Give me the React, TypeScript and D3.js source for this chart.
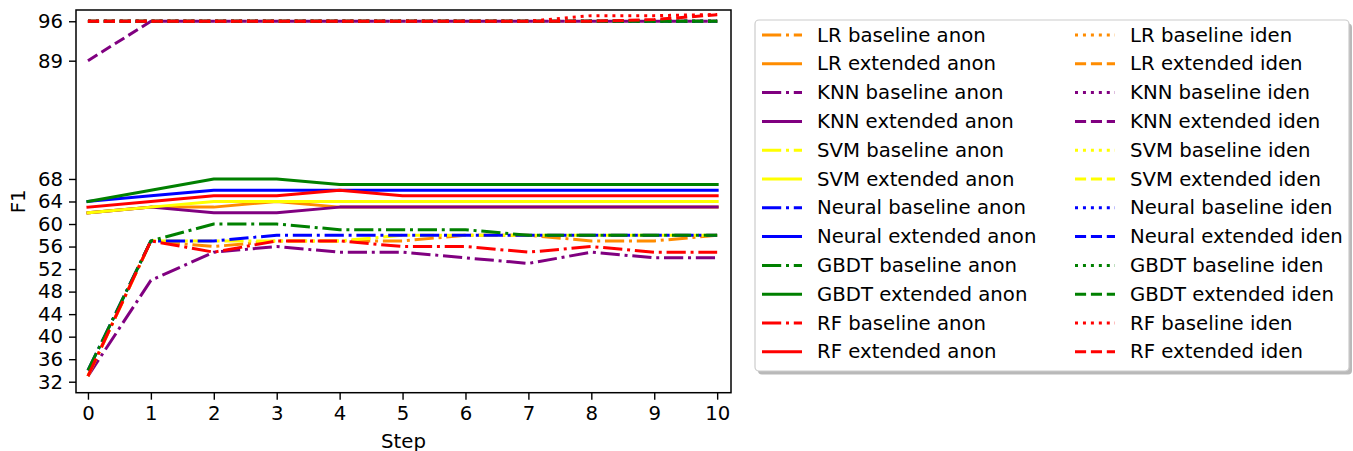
import { useEffect, useRef } from "react";
import * as d3 from "d3";

// x axis: training steps
const steps = [0, 1, 2, 3, 4, 5, 6, 7, 8, 9, 10];
const yTicks = [32, 36, 40, 44, 48, 52, 56, 60, 64, 68, 89, 96];

// anon runs
const lrBaseAnon = [33, 57, 56, 57, 57, 57, 58, 58, 57, 57, 58];
const lrExtAnon = [62, 63, 63, 64, 63, 63, 63, 63, 63, 63, 63];
const knnBaseAnon = [33, 50, 55, 56, 55, 55, 54, 53, 55, 54, 54];
const knnExtAnon = [62, 63, 62, 62, 63, 63, 63, 63, 63, 63, 63];
const svmBaseAnon = [33, 57, 57, 57, 57, 58, 58, 58, 58, 58, 58];
const svmExtAnon = [62, 63, 64, 64, 64, 64, 64, 64, 64, 64, 64];
const nnBaseAnon = [34, 57, 57, 58, 58, 58, 58, 58, 58, 58, 58];
const nnExtAnon = [64, 65, 66, 66, 66, 66, 66, 66, 66, 66, 66];
const gbdtBaseAnon = [34, 57, 60, 60, 59, 59, 59, 58, 58, 58, 58];
const gbdtExtAnon = [64, 66, 68, 68, 67, 67, 67, 67, 67, 67, 67];
const rfBaseAnon = [33, 57, 55, 57, 57, 56, 56, 55, 56, 55, 55];
const rfExtAnon = [63, 64, 65, 65, 66, 65, 65, 65, 65, 65, 65];

// iden runs
const lrBaseIden = [96, 96, 96, 96, 96, 96, 96, 96, 96, 96, 96];
const lrExtIden = [96, 96, 96, 96, 96, 96, 96, 96, 96, 96, 96];
const knnBaseIden = [96, 96, 96, 96, 96, 96, 96, 96, 96, 96, 96];
const knnExtIden = [89, 96, 96, 96, 96, 96, 96, 96, 96, 96, 96];
const svmBaseIden = [96, 96, 96, 96, 96, 96, 96, 96, 96, 96, 96];
const svmExtIden = [96, 96, 96, 96, 96, 96, 96, 96, 96, 96, 96];
const nnBaseIden = [96, 96, 96, 96, 96, 96, 96, 96, 96, 96, 96];
const nnExtIden = [96, 96, 96, 96, 96, 96, 96, 96, 96, 96, 96];
const gbdtBaseIden = [96, 96, 96, 96, 96, 96, 96, 96, 96, 96, 96];
const gbdtExtIden = [96, 96, 96, 96, 96, 96, 96, 96, 96, 96, 96];
const rfBaseIden = [96, 96, 96, 96, 96, 96, 96, 96, 97, 97, 97.2];
const rfExtIden = [96, 96, 96, 96, 96, 96, 96, 96, 96, 96.3, 97.15];

type LineStyle = "solid" | "dashed" | "dashdot" | "dotted";
type Series = { label: string; values: number[]; color: string; style: LineStyle };

const series: Series[] = [
  { label: "LR baseline anon", values: lrBaseAnon, color: "darkorange", style: "dashdot" },
  { label: "LR extended anon", values: lrExtAnon, color: "darkorange", style: "solid" },
  { label: "KNN baseline anon", values: knnBaseAnon, color: "purple", style: "dashdot" },
  { label: "KNN extended anon", values: knnExtAnon, color: "purple", style: "solid" },
  { label: "SVM baseline anon", values: svmBaseAnon, color: "yellow", style: "dashdot" },
  { label: "SVM extended anon", values: svmExtAnon, color: "yellow", style: "solid" },
  { label: "Neural baseline anon", values: nnBaseAnon, color: "blue", style: "dashdot" },
  { label: "Neural extended anon", values: nnExtAnon, color: "blue", style: "solid" },
  { label: "GBDT baseline anon", values: gbdtBaseAnon, color: "green", style: "dashdot" },
  { label: "GBDT extended anon", values: gbdtExtAnon, color: "green", style: "solid" },
  { label: "RF baseline anon", values: rfBaseAnon, color: "red", style: "dashdot" },
  { label: "RF extended anon", values: rfExtAnon, color: "red", style: "solid" },
  { label: "LR baseline iden", values: lrBaseIden, color: "darkorange", style: "dotted" },
  { label: "LR extended iden", values: lrExtIden, color: "darkorange", style: "dashed" },
  { label: "KNN baseline iden", values: knnBaseIden, color: "purple", style: "dotted" },
  { label: "KNN extended iden", values: knnExtIden, color: "purple", style: "dashed" },
  { label: "SVM baseline iden", values: svmBaseIden, color: "yellow", style: "dotted" },
  { label: "SVM extended iden", values: svmExtIden, color: "yellow", style: "dashed" },
  { label: "Neural baseline iden", values: nnBaseIden, color: "blue", style: "dotted" },
  { label: "Neural extended iden", values: nnExtIden, color: "blue", style: "dashed" },
  { label: "GBDT baseline iden", values: gbdtBaseIden, color: "green", style: "dotted" },
  { label: "GBDT extended iden", values: gbdtExtIden, color: "green", style: "dashed" },
  { label: "RF baseline iden", values: rfBaseIden, color: "red", style: "dotted" },
  { label: "RF extended iden", values: rfExtIden, color: "red", style: "dashed" },
];

const LW = 3;
const FONT = "DejaVu Sans, sans-serif";
const FONT_SIZE = "19.7px";

// matplotlib style dash patterns, scaled by line width
const dashFor = (style: LineStyle, lw: number) => {
  if (style === "dashed") return `${3.7 * lw},${1.6 * lw}`;
  if (style === "dashdot") return `${6.4 * lw},${1.6 * lw},${1 * lw},${1.6 * lw}`;
  if (style === "dotted") return `${1 * lw},${1.65 * lw}`;
  return null;
};

export default function App() {
  const ref = useRef<SVGSVGElement | null>(null);

  useEffect(() => {
    if (!ref.current) return;
    const svg = d3.select(ref.current);
    svg.selectAll("*").remove();

    const plot = { left: 76, right: 731, top: 10, bottom: 392.7 };

    const x = d3.scaleLinear().domain([-0.19, 10.22]).range([plot.left, plot.right]);
    const y = d3.scaleLinear().domain([30.05, 98.0]).range([plot.bottom, plot.top]);

    svg.append("rect").attr("width", 1353).attr("height", 451).attr("fill", "white");

    // lines
    const line = d3
      .line<number>()
      .x((_, i) => x(steps[i]))
      .y((d) => y(d));

    const lines = svg.append("g");
    series.forEach((s) => {
      lines
        .append("path")
        .datum(s.values)
        .attr("fill", "none")
        .attr("stroke", s.color)
        .attr("stroke-width", LW)
        .attr("stroke-linecap", s.style === "solid" ? "square" : "butt")
        .attr("stroke-linejoin", "round")
        .attr("stroke-dasharray", dashFor(s.style, LW))
        .attr("d", line);
    });

    // axes
    const xAxis = svg
      .append("g")
      .attr("transform", `translate(0,${plot.bottom})`)
      .call(d3.axisBottom(x).tickValues(steps).tickSize(7).tickPadding(6).tickFormat(d3.format("d")));
    const yAxis = svg
      .append("g")
      .attr("transform", `translate(${plot.left},0)`)
      .call(d3.axisLeft(y).tickValues(yTicks).tickSize(7).tickPadding(6).tickFormat(d3.format("d")));

    [xAxis, yAxis].forEach((a) => {
      a.select(".domain").remove();
      a.selectAll("line").attr("stroke", "black").attr("stroke-width", 1.4);
      a.selectAll("text")
        .attr("fill", "black")
        .style("font-family", FONT)
        .style("font-size", FONT_SIZE);
    });

    // frame
    svg
      .append("rect")
      .attr("x", plot.left)
      .attr("y", plot.top)
      .attr("width", plot.right - plot.left)
      .attr("height", plot.bottom - plot.top)
      .attr("fill", "none")
      .attr("stroke", "black")
      .attr("stroke-width", 1.5);

    svg
      .append("text")
      .attr("x", (plot.left + plot.right) / 2)
      .attr("y", 441)
      .attr("text-anchor", "middle")
      .attr("dominant-baseline", "central")
      .style("font-family", FONT)
      .style("font-size", FONT_SIZE)
      .text("Step");

    svg
      .append("text")
      .attr("transform", `translate(18,${(plot.top + plot.bottom) / 2}) rotate(-90)`)
      .attr("text-anchor", "middle")
      .attr("dominant-baseline", "central")
      .style("font-family", FONT)
      .style("font-size", FONT_SIZE)
      .text("F1");

    // legend
    const box = { x: 755, y: 20, w: 594, h: 351 };
    const legend = svg.append("g");
    legend
      .append("rect")
      .attr("x", box.x + 3)
      .attr("y", box.y + 3.5)
      .attr("width", box.w)
      .attr("height", box.h)
      .attr("rx", 4)
      .attr("fill", "#808080")
      .attr("opacity", 0.55);
    legend
      .append("rect")
      .attr("x", box.x)
      .attr("y", box.y)
      .attr("width", box.w)
      .attr("height", box.h)
      .attr("rx", 4)
      .attr("fill", "white")
      .attr("stroke", "#cccccc")
      .attr("stroke-width", 1.2);

    const rowY = (i: number) => 35 + i * 28.8;
    const cols = [
      { hx: 762, tx: 817 },
      { hx: 1075, tx: 1130 },
    ];

    series.forEach((s, i) => {
      const col = cols[Math.floor(i / 12)];
      const ry = rowY(i % 12);
      legend
        .append("line")
        .attr("x1", col.hx)
        .attr("x2", col.hx + 40)
        .attr("y1", ry)
        .attr("y2", ry)
        .attr("stroke", s.color)
        .attr("stroke-width", LW)
        .attr("stroke-linecap", "butt")
        .attr("stroke-dasharray", dashFor(s.style, LW));
      legend
        .append("text")
        .attr("x", col.tx)
        .attr("y", ry)
        .attr("dominant-baseline", "central")
        .style("font-family", FONT)
        .style("font-size", FONT_SIZE)
        .text(s.label);
    });
  }, []);

  return (
    <svg
      ref={ref}
      width={1353}
      height={451}
      style={{ position: "absolute", left: 0, top: 0 }}
    ></svg>
  );
}
